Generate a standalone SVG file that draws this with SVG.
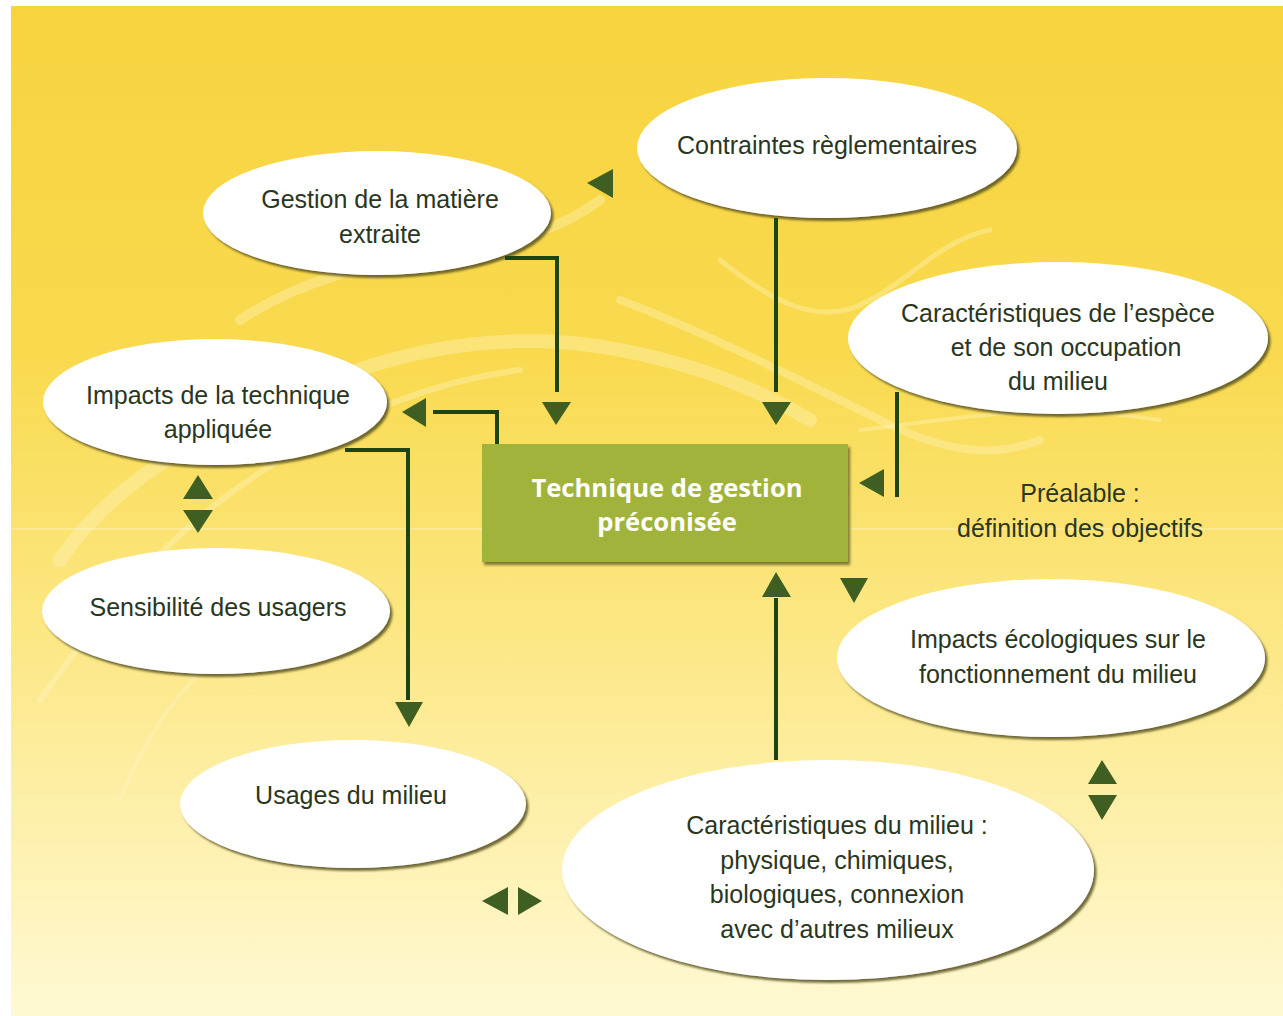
<svg xmlns="http://www.w3.org/2000/svg" width="1283" height="1016" viewBox="0 0 1283 1016">
<defs>
<linearGradient id="bg" x1="0" y1="0" x2="0" y2="1">
<stop offset="0" stop-color="#F7D33E"/>
<stop offset="0.35" stop-color="#F9DA4F"/>
<stop offset="0.62" stop-color="#FCE784"/>
<stop offset="1" stop-color="#FFF9D4"/>
</linearGradient>
<filter id="sh" x="-10%" y="-10%" width="125%" height="130%">
<feDropShadow dx="2.5" dy="3" stdDeviation="1.2" flood-color="#4F4A1C" flood-opacity="0.8"/>
</filter>
<filter id="bsh" x="-5%" y="-5%" width="110%" height="115%">
<feDropShadow dx="2" dy="3" stdDeviation="1.5" flood-color="#5A5A22" flood-opacity="0.8"/>
</filter>
<style>
.el{fill:#FFFFFF;filter:url(#sh);}
.t{font-family:"Liberation Sans",Arial,sans-serif;font-size:25px;fill:#2A3620;text-anchor:middle;}
.bt{font-family:"Open Sans","Liberation Sans",sans-serif;font-weight:700;font-size:25.6px;fill:#FFFFFF;text-anchor:middle;}
.ln{fill:none;stroke:#1D4513;stroke-width:4;}
.ah{fill:#3E5E22;}
.wm{fill:none;stroke:#FFF6C8;stroke-opacity:0.35;stroke-linecap:round;}
</style>
</defs>
<rect x="11" y="6" width="1272" height="1010" fill="url(#bg)"/>
<g id="watermark">
<path class="wm" stroke-width="14" d="M60,560 C120,470 230,420 330,380 C420,345 520,330 620,350 C700,365 760,390 810,420"/>
<path class="wm" stroke-width="6" d="M40,700 C110,600 180,520 280,460 C360,410 440,380 520,370"/>
<path class="wm" stroke-width="10" d="M240,320 C300,280 380,260 450,250 C520,240 560,230 600,200"/>
<path class="wm" stroke-width="8" d="M620,300 C700,330 800,380 880,420 C940,450 990,460 1040,440"/>
<path class="wm" stroke-width="5" d="M720,260 C770,300 820,330 870,300 C910,280 940,240 990,230"/>
<path class="wm" stroke-width="4" d="M120,800 C160,700 220,640 300,600"/>
<path class="wm" stroke-width="4" d="M860,430 C950,420 1040,400 1160,420"/>
</g>
<line x1="11" y1="529" x2="1283" y2="529" stroke="#FFFFFF" stroke-opacity="0.5" stroke-width="1"/>
<g id="node-contraintes">
<ellipse class="el" cx="827" cy="148" rx="190" ry="70"/>
<text class="t" x="827" y="154">Contraintes règlementaires</text>
</g>
<g id="node-gestion-matiere">
<ellipse class="el" cx="377" cy="213" rx="174" ry="62"/>
<text class="t" x="380" y="208">Gestion de la matière</text>
<text class="t" x="380" y="243">extraite</text>
</g>
<g id="node-espece">
<ellipse class="el" cx="1058" cy="338" rx="210" ry="76"/>
<text class="t" x="1058" y="322">Caractéristiques de l’espèce</text>
<text class="t" x="1066" y="356">et de son occupation</text>
<text class="t" x="1058" y="390">du milieu</text>
</g>
<g id="node-impacts-technique">
<ellipse class="el" cx="215" cy="402" rx="172" ry="63"/>
<text class="t" x="218" y="404">Impacts de la technique</text>
<text class="t" x="218" y="438">appliquée</text>
</g>
<g id="node-sensibilite">
<ellipse class="el" cx="216" cy="611" rx="174" ry="63"/>
<text class="t" x="218" y="616">Sensibilité des usagers</text>
</g>
<g id="node-impacts-eco">
<ellipse class="el" cx="1051" cy="658" rx="214" ry="79"/>
<text class="t" x="1058" y="648">Impacts écologiques sur le</text>
<text class="t" x="1058" y="683">fonctionnement du milieu</text>
</g>
<g id="node-usages">
<ellipse class="el" cx="353" cy="804" rx="173" ry="64"/>
<text class="t" x="351" y="804">Usages du milieu</text>
</g>
<g id="node-milieu">
<ellipse class="el" cx="828" cy="870" rx="266" ry="110"/>
<text class="t" x="837" y="834">Caractéristiques du milieu :</text>
<text class="t" x="837" y="869">physique, chimiques,</text>
<text class="t" x="837" y="903">biologiques, connexion</text>
<text class="t" x="837" y="938">avec d’autres milieux</text>
</g>
<g id="node-prealable">
<text class="t" x="1080" y="502">Préalable :</text>
<text class="t" x="1080" y="537">définition des objectifs</text>
</g>
<g id="node-technique">
<rect x="482" y="444" width="366" height="118" fill="#A2B33A" filter="url(#bsh)"/>
<text class="bt" x="667" y="497">Technique de gestion</text>
<text class="bt" x="667" y="531">préconisée</text>
</g>
<g id="connectors">
<path class="ln" d="M505,258 H557 V392"/>
<polygon class="ah" points="542,402 571,402 556,425"/>
<path class="ln" d="M776,218 V392"/>
<polygon class="ah" points="762,402 791,402 776,425"/>
<path class="ln" d="M497,444 V412 H433"/>
<polygon class="ah" points="402,412 426,398 426,427"/>
<path class="ln" d="M345,450 H408 V700"/>
<polygon class="ah" points="395,702 423,702 409,727"/>
<path class="ln" d="M897,392 V497"/>
<polygon class="ah" points="859,483 884,469 884,497"/>
<path class="ln" d="M776,760 V598"/>
<polygon class="ah" points="762,597 791,597 776,572"/>
<polygon class="ah" points="840,578 868,578 854,603"/>
<polygon class="ah" points="587,183 613,169 613,198"/>
<polygon class="ah" points="198,475 183,499 213,499"/>
<polygon class="ah" points="183,510 213,510 198,533"/>
<polygon class="ah" points="1102,760 1088,784 1117,784"/>
<polygon class="ah" points="1088,795 1117,795 1102,820"/>
<polygon class="ah" points="482,901 508,887 508,915"/>
<polygon class="ah" points="518,887 518,915 542,901"/>
</g>
</svg>
